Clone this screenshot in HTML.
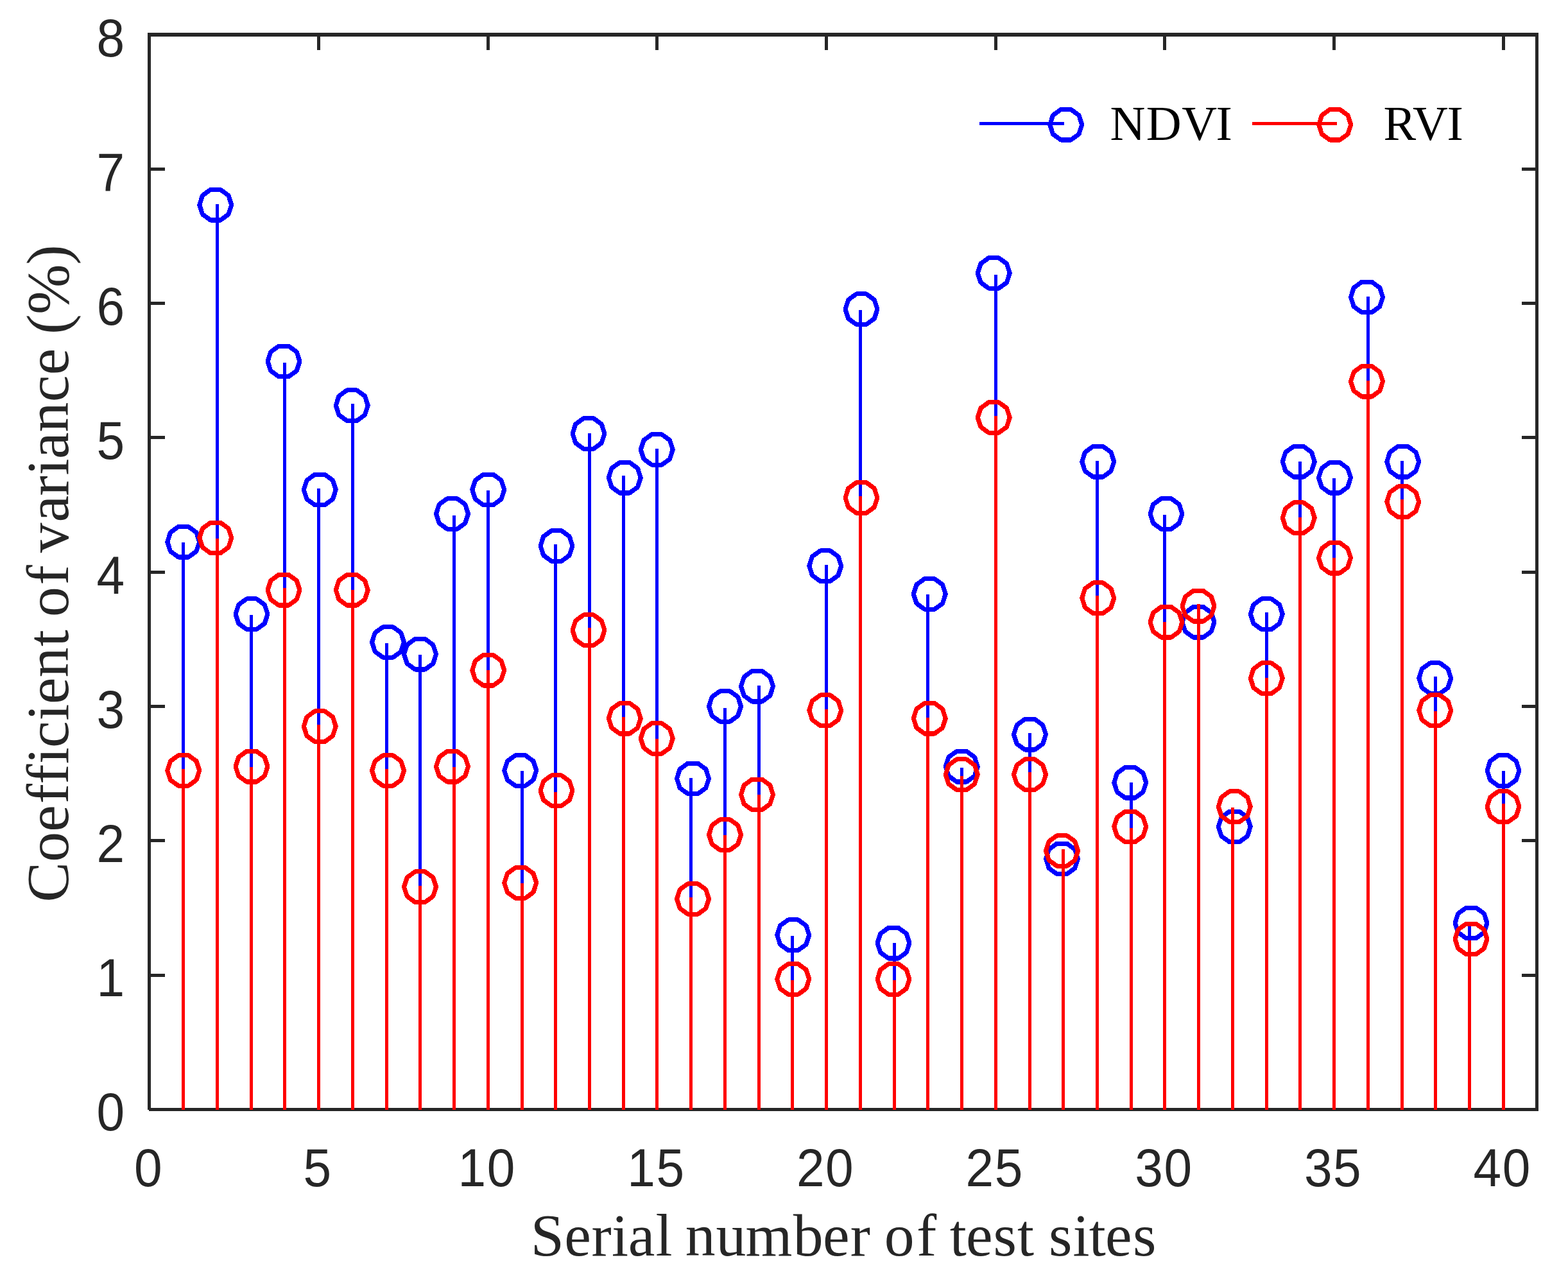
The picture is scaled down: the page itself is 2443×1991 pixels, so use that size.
<!DOCTYPE html>
<html lang="en"><head><meta charset="utf-8"><title>Coefficient of variance - NDVI vs RVI</title>
<style>
html,body{margin:0;padding:0;background:#fff;}
body{width:2443px;height:1991px;overflow:hidden;}
svg{display:block;}
text{font-kerning:none;font-variant-ligatures:none;}
.tk{font-family:"Liberation Sans",Arial,Helvetica,sans-serif;font-size:81.25px;fill:#262626;}
.lb{font-family:"Liberation Serif","Times New Roman",Times,serif;font-size:93.75px;fill:#262626;}
.lg{font-family:"Liberation Serif","Times New Roman",Times,serif;font-size:76px;fill:#000;}
.bs{fill:#0000ff;}.rs{fill:#ff0000;}
.bm{fill:none;stroke:#0000ff;stroke-width:7.1;stroke-linejoin:bevel;}
.rm{fill:none;stroke:#ff0000;stroke-width:7.1;stroke-linejoin:bevel;}
.ax{fill:#262626;}
</style></head><body>
<svg xmlns="http://www.w3.org/2000/svg" width="2443" height="1991" viewBox="0 0 2443 1991">
<rect x="0" y="0" width="2443" height="1991" fill="#ffffff"/>
<g class="ax" shape-rendering="crispEdges">
<rect x="230" y="51" width="2167" height="5.6"/>
<rect x="232" y="1726" width="2165" height="5"/>
<rect x="230" y="51" width="5" height="1678"/>
<rect x="2392" y="51" width="5" height="1680"/>
<rect x="494" y="56" width="5" height="21.5"/>
<rect x="494" y="1704.5" width="5" height="21.5"/>
<rect x="758" y="56" width="5" height="21.5"/>
<rect x="758" y="1704.5" width="5" height="21.5"/>
<rect x="1021" y="56" width="5" height="21.5"/>
<rect x="1021" y="1704.5" width="5" height="21.5"/>
<rect x="1285" y="56" width="5" height="21.5"/>
<rect x="1285" y="1704.5" width="5" height="21.5"/>
<rect x="1549" y="56" width="5" height="21.5"/>
<rect x="1549" y="1704.5" width="5" height="21.5"/>
<rect x="1812" y="56" width="5" height="21.5"/>
<rect x="1812" y="1704.5" width="5" height="21.5"/>
<rect x="2076" y="56" width="5" height="21.5"/>
<rect x="2076" y="1704.5" width="5" height="21.5"/>
<rect x="2340" y="56" width="5" height="21.5"/>
<rect x="2340" y="1704.5" width="5" height="21.5"/>
<rect x="235" y="1517" width="21.5" height="5"/>
<rect x="2370.5" y="1517" width="21.5" height="5"/>
<rect x="235" y="1307" width="21.5" height="5"/>
<rect x="2370.5" y="1307" width="21.5" height="5"/>
<rect x="235" y="1098" width="21.5" height="5"/>
<rect x="2370.5" y="1098" width="21.5" height="5"/>
<rect x="235" y="889" width="21.5" height="5"/>
<rect x="2370.5" y="889" width="21.5" height="5"/>
<rect x="235" y="679" width="21.5" height="5"/>
<rect x="2370.5" y="679" width="21.5" height="5"/>
<rect x="235" y="470" width="21.5" height="5"/>
<rect x="2370.5" y="470" width="21.5" height="5"/>
<rect x="235" y="261" width="21.5" height="5"/>
<rect x="2370.5" y="261" width="21.5" height="5"/>
</g>
<g class="bs" shape-rendering="crispEdges">
<rect x="283" y="845.0" width="5" height="884.2"/>
<rect x="336" y="317.9" width="5" height="1411.3"/>
<rect x="389" y="958.3" width="5" height="770.9"/>
<rect x="441" y="565.1" width="5" height="1164.2"/>
<rect x="494" y="760.5" width="5" height="968.8"/>
<rect x="547" y="629.2" width="5" height="1100.0"/>
<rect x="600" y="1002.2" width="5" height="727.0"/>
<rect x="652" y="1019.8" width="5" height="709.4"/>
<rect x="705" y="802.8" width="5" height="926.5"/>
<rect x="758" y="764.2" width="5" height="965.0"/>
<rect x="811" y="1201.0" width="5" height="528.2"/>
<rect x="863" y="847.6" width="5" height="881.6"/>
<rect x="916" y="675.0" width="5" height="1054.2"/>
<rect x="969" y="740.9" width="5" height="988.3"/>
<rect x="1021" y="698.9" width="5" height="1030.3"/>
<rect x="1074" y="1211.5" width="5" height="517.7"/>
<rect x="1127" y="1102.5" width="5" height="626.8"/>
<rect x="1180" y="1067.8" width="5" height="661.4"/>
<rect x="1232" y="1458.1" width="5" height="271.1"/>
<rect x="1285" y="880.2" width="5" height="849.0"/>
<rect x="1338" y="482.8" width="5" height="1246.4"/>
<rect x="1391" y="1469.4" width="5" height="259.8"/>
<rect x="1443" y="926.2" width="5" height="803.0"/>
<rect x="1496" y="1196.2" width="5" height="533.0"/>
<rect x="1549" y="427.9" width="5" height="1301.2"/>
<rect x="1602" y="1142.0" width="5" height="587.2"/>
<rect x="1654" y="1338.0" width="5" height="391.2"/>
<rect x="1707" y="718.3" width="5" height="1010.9"/>
<rect x="1760" y="1218.7" width="5" height="510.5"/>
<rect x="1812" y="801.5" width="5" height="927.8"/>
<rect x="1865" y="969.2" width="5" height="760.0"/>
<rect x="1918" y="1288.0" width="5" height="441.2"/>
<rect x="1971" y="954.0" width="5" height="775.2"/>
<rect x="2023" y="719.0" width="5" height="1010.2"/>
<rect x="2076" y="745.1" width="5" height="984.1"/>
<rect x="2129" y="461.8" width="5" height="1267.5"/>
<rect x="2182" y="717.9" width="5" height="1011.3"/>
<rect x="2234" y="1054.4" width="5" height="674.8"/>
<rect x="2287" y="1438.0" width="5" height="291.2"/>
<rect x="2340" y="1200.9" width="5" height="528.3"/>
</g>
<g class="bm" shape-rendering="crispEdges">
<polygon points="310.75,844.20 305.98,858.89 293.48,867.98 278.02,867.98 265.52,858.89 260.75,844.20 265.52,829.51 278.02,820.42 293.48,820.42 305.98,829.51"/>
<polygon points="360.75,319.20 355.98,333.89 343.48,342.98 328.02,342.98 315.52,333.89 310.75,319.20 315.52,304.51 328.02,295.42 343.48,295.42 355.98,304.51"/>
<polygon points="417.00,956.70 412.23,971.39 399.73,980.48 384.27,980.48 371.77,971.39 367.00,956.70 371.77,942.01 384.27,932.92 399.73,932.92 412.23,942.01"/>
<polygon points="467.00,562.95 462.23,577.64 449.73,586.73 434.27,586.73 421.77,577.64 417.00,562.95 421.77,548.26 434.27,539.17 449.73,539.17 462.23,548.26"/>
<polygon points="523.25,762.95 518.48,777.64 505.98,786.73 490.52,786.73 478.02,777.64 473.25,762.95 478.02,748.26 490.52,739.17 505.98,739.17 518.48,748.26"/>
<polygon points="573.25,631.70 568.48,646.39 555.98,655.48 540.52,655.48 528.02,646.39 523.25,631.70 528.02,617.01 540.52,607.92 555.98,607.92 568.48,617.01"/>
<polygon points="629.50,1000.45 624.73,1015.14 612.23,1024.23 596.77,1024.23 584.27,1015.14 579.50,1000.45 584.27,985.76 596.77,976.67 612.23,976.67 624.73,985.76"/>
<polygon points="679.50,1019.20 674.73,1033.89 662.23,1042.98 646.77,1042.98 634.27,1033.89 629.50,1019.20 634.27,1004.51 646.77,995.42 662.23,995.42 674.73,1004.51"/>
<polygon points="729.50,800.45 724.73,815.14 712.23,824.23 696.77,824.23 684.27,815.14 679.50,800.45 684.27,785.76 696.77,776.67 712.23,776.67 724.73,785.76"/>
<polygon points="785.75,762.95 780.98,777.64 768.48,786.73 753.02,786.73 740.52,777.64 735.75,762.95 740.52,748.26 753.02,739.17 768.48,739.17 780.98,748.26"/>
<polygon points="835.75,1200.45 830.98,1215.14 818.48,1224.23 803.02,1224.23 790.52,1215.14 785.75,1200.45 790.52,1185.76 803.02,1176.67 818.48,1176.67 830.98,1185.76"/>
<polygon points="892.00,850.45 887.23,865.14 874.73,874.23 859.27,874.23 846.77,865.14 842.00,850.45 846.77,835.76 859.27,826.67 874.73,826.67 887.23,835.76"/>
<polygon points="942.00,675.45 937.23,690.14 924.73,699.23 909.27,699.23 896.77,690.14 892.00,675.45 896.77,660.76 909.27,651.67 924.73,651.67 937.23,660.76"/>
<polygon points="998.25,744.20 993.48,758.89 980.98,767.98 965.52,767.98 953.02,758.89 948.25,744.20 953.02,729.51 965.52,720.42 980.98,720.42 993.48,729.51"/>
<polygon points="1048.25,700.45 1043.48,715.14 1030.98,724.23 1015.52,724.23 1003.02,715.14 998.25,700.45 1003.02,685.76 1015.52,676.67 1030.98,676.67 1043.48,685.76"/>
<polygon points="1104.50,1212.95 1099.73,1227.64 1087.23,1236.73 1071.77,1236.73 1059.27,1227.64 1054.50,1212.95 1059.27,1198.26 1071.77,1189.17 1087.23,1189.17 1099.73,1198.26"/>
<polygon points="1154.50,1100.45 1149.73,1115.14 1137.23,1124.23 1121.77,1124.23 1109.27,1115.14 1104.50,1100.45 1109.27,1085.76 1121.77,1076.67 1137.23,1076.67 1149.73,1085.76"/>
<polygon points="1204.50,1069.20 1199.73,1083.89 1187.23,1092.98 1171.77,1092.98 1159.27,1083.89 1154.50,1069.20 1159.27,1054.51 1171.77,1045.42 1187.23,1045.42 1199.73,1054.51"/>
<polygon points="1260.75,1456.70 1255.98,1471.39 1243.48,1480.48 1228.02,1480.48 1215.52,1471.39 1210.75,1456.70 1215.52,1442.01 1228.02,1432.92 1243.48,1432.92 1255.98,1442.01"/>
<polygon points="1310.75,881.70 1305.98,896.39 1293.48,905.48 1278.02,905.48 1265.52,896.39 1260.75,881.70 1265.52,867.01 1278.02,857.92 1293.48,857.92 1305.98,867.01"/>
<polygon points="1367.00,481.70 1362.23,496.39 1349.73,505.48 1334.27,505.48 1321.77,496.39 1317.00,481.70 1321.77,467.01 1334.27,457.92 1349.73,457.92 1362.23,467.01"/>
<polygon points="1417.00,1469.20 1412.23,1483.89 1399.73,1492.98 1384.27,1492.98 1371.77,1483.89 1367.00,1469.20 1371.77,1454.51 1384.27,1445.42 1399.73,1445.42 1412.23,1454.51"/>
<polygon points="1473.25,925.45 1468.48,940.14 1455.98,949.23 1440.52,949.23 1428.02,940.14 1423.25,925.45 1428.02,910.76 1440.52,901.67 1455.98,901.67 1468.48,910.76"/>
<polygon points="1523.25,1194.20 1518.48,1208.89 1505.98,1217.98 1490.52,1217.98 1478.02,1208.89 1473.25,1194.20 1478.02,1179.51 1490.52,1170.42 1505.98,1170.42 1518.48,1179.51"/>
<polygon points="1573.25,425.45 1568.48,440.14 1555.98,449.23 1540.52,449.23 1528.02,440.14 1523.25,425.45 1528.02,410.76 1540.52,401.67 1555.98,401.67 1568.48,410.76"/>
<polygon points="1629.50,1144.20 1624.73,1158.89 1612.23,1167.98 1596.77,1167.98 1584.27,1158.89 1579.50,1144.20 1584.27,1129.51 1596.77,1120.42 1612.23,1120.42 1624.73,1129.51"/>
<polygon points="1679.50,1337.95 1674.73,1352.64 1662.23,1361.73 1646.77,1361.73 1634.27,1352.64 1629.50,1337.95 1634.27,1323.26 1646.77,1314.17 1662.23,1314.17 1674.73,1323.26"/>
<polygon points="1735.75,719.20 1730.98,733.89 1718.48,742.98 1703.02,742.98 1690.52,733.89 1685.75,719.20 1690.52,704.51 1703.02,695.42 1718.48,695.42 1730.98,704.51"/>
<polygon points="1785.75,1219.20 1780.98,1233.89 1768.48,1242.98 1753.02,1242.98 1740.52,1233.89 1735.75,1219.20 1740.52,1204.51 1753.02,1195.42 1768.48,1195.42 1780.98,1204.51"/>
<polygon points="1842.00,800.45 1837.23,815.14 1824.73,824.23 1809.27,824.23 1796.77,815.14 1792.00,800.45 1796.77,785.76 1809.27,776.67 1824.73,776.67 1837.23,785.76"/>
<polygon points="1892.00,969.20 1887.23,983.89 1874.73,992.98 1859.27,992.98 1846.77,983.89 1842.00,969.20 1846.77,954.51 1859.27,945.42 1874.73,945.42 1887.23,954.51"/>
<polygon points="1948.25,1287.95 1943.48,1302.64 1930.98,1311.73 1915.52,1311.73 1903.02,1302.64 1898.25,1287.95 1903.02,1273.26 1915.52,1264.17 1930.98,1264.17 1943.48,1273.26"/>
<polygon points="1998.25,956.70 1993.48,971.39 1980.98,980.48 1965.52,980.48 1953.02,971.39 1948.25,956.70 1953.02,942.01 1965.52,932.92 1980.98,932.92 1993.48,942.01"/>
<polygon points="2048.25,719.20 2043.48,733.89 2030.98,742.98 2015.52,742.98 2003.02,733.89 1998.25,719.20 2003.02,704.51 2015.52,695.42 2030.98,695.42 2043.48,704.51"/>
<polygon points="2104.50,744.20 2099.73,758.89 2087.23,767.98 2071.77,767.98 2059.27,758.89 2054.50,744.20 2059.27,729.51 2071.77,720.42 2087.23,720.42 2099.73,729.51"/>
<polygon points="2154.50,462.95 2149.73,477.64 2137.23,486.73 2121.77,486.73 2109.27,477.64 2104.50,462.95 2109.27,448.26 2121.77,439.17 2137.23,439.17 2149.73,448.26"/>
<polygon points="2210.75,719.20 2205.98,733.89 2193.48,742.98 2178.02,742.98 2165.52,733.89 2160.75,719.20 2165.52,704.51 2178.02,695.42 2193.48,695.42 2205.98,704.51"/>
<polygon points="2260.75,1056.70 2255.98,1071.39 2243.48,1080.48 2228.02,1080.48 2215.52,1071.39 2210.75,1056.70 2215.52,1042.01 2228.02,1032.92 2243.48,1032.92 2255.98,1042.01"/>
<polygon points="2317.00,1437.95 2312.23,1452.64 2299.73,1461.73 2284.27,1461.73 2271.77,1452.64 2267.00,1437.95 2271.77,1423.26 2284.27,1414.17 2299.73,1414.17 2312.23,1423.26"/>
<polygon points="2367.00,1200.45 2362.23,1215.14 2349.73,1224.23 2334.27,1224.23 2321.77,1215.14 2317.00,1200.45 2321.77,1185.76 2334.27,1176.67 2349.73,1176.67 2362.23,1185.76"/>
</g>
<g class="rs" shape-rendering="crispEdges">
<rect x="283" y="1197.5" width="5" height="531.7"/>
<rect x="336" y="839.4" width="5" height="889.9"/>
<rect x="389" y="1195.0" width="5" height="534.2"/>
<rect x="441" y="916.4" width="5" height="812.8"/>
<rect x="494" y="1128.8" width="5" height="600.4"/>
<rect x="547" y="919.0" width="5" height="810.2"/>
<rect x="600" y="1197.5" width="5" height="531.7"/>
<rect x="652" y="1380.3" width="5" height="348.9"/>
<rect x="705" y="1195.0" width="5" height="534.2"/>
<rect x="758" y="1043.8" width="5" height="685.4"/>
<rect x="811" y="1376.0" width="5" height="353.2"/>
<rect x="863" y="1234.1" width="5" height="495.1"/>
<rect x="916" y="978.4" width="5" height="750.8"/>
<rect x="969" y="1117.3" width="5" height="611.9"/>
<rect x="1021" y="1151.2" width="5" height="578.0"/>
<rect x="1074" y="1398.2" width="5" height="331.0"/>
<rect x="1127" y="1300.9" width="5" height="428.3"/>
<rect x="1180" y="1237.9" width="5" height="491.3"/>
<rect x="1232" y="1527.2" width="5" height="202.0"/>
<rect x="1285" y="1105.4" width="5" height="623.8"/>
<rect x="1338" y="773.2" width="5" height="956.0"/>
<rect x="1391" y="1527.2" width="5" height="202.0"/>
<rect x="1443" y="1117.8" width="5" height="611.4"/>
<rect x="1496" y="1209.2" width="5" height="520.0"/>
<rect x="1549" y="647.8" width="5" height="1081.5"/>
<rect x="1602" y="1203.0" width="5" height="526.2"/>
<rect x="1654" y="1322.8" width="5" height="406.5"/>
<rect x="1707" y="927.7" width="5" height="801.5"/>
<rect x="1760" y="1289.8" width="5" height="439.5"/>
<rect x="1812" y="968.6" width="5" height="760.6"/>
<rect x="1865" y="940.7" width="5" height="788.5"/>
<rect x="1918" y="1258.2" width="5" height="471.0"/>
<rect x="1971" y="1055.9" width="5" height="673.3"/>
<rect x="2023" y="806.2" width="5" height="923.0"/>
<rect x="2076" y="869.0" width="5" height="860.2"/>
<rect x="2129" y="593.4" width="5" height="1135.8"/>
<rect x="2182" y="778.0" width="5" height="951.2"/>
<rect x="2234" y="1108.3" width="5" height="620.9"/>
<rect x="2287" y="1464.5" width="5" height="264.8"/>
<rect x="2340" y="1252.4" width="5" height="476.8"/>
</g>
<g class="rm" shape-rendering="crispEdges">
<polygon points="310.75,1200.45 305.98,1215.14 293.48,1224.23 278.02,1224.23 265.52,1215.14 260.75,1200.45 265.52,1185.76 278.02,1176.67 293.48,1176.67 305.98,1185.76"/>
<polygon points="360.75,837.95 355.98,852.64 343.48,861.73 328.02,861.73 315.52,852.64 310.75,837.95 315.52,823.26 328.02,814.17 343.48,814.17 355.98,823.26"/>
<polygon points="417.00,1194.20 412.23,1208.89 399.73,1217.98 384.27,1217.98 371.77,1208.89 367.00,1194.20 371.77,1179.51 384.27,1170.42 399.73,1170.42 412.23,1179.51"/>
<polygon points="467.00,919.20 462.23,933.89 449.73,942.98 434.27,942.98 421.77,933.89 417.00,919.20 421.77,904.51 434.27,895.42 449.73,895.42 462.23,904.51"/>
<polygon points="523.25,1131.70 518.48,1146.39 505.98,1155.48 490.52,1155.48 478.02,1146.39 473.25,1131.70 478.02,1117.01 490.52,1107.92 505.98,1107.92 518.48,1117.01"/>
<polygon points="573.25,919.20 568.48,933.89 555.98,942.98 540.52,942.98 528.02,933.89 523.25,919.20 528.02,904.51 540.52,895.42 555.98,895.42 568.48,904.51"/>
<polygon points="629.50,1200.45 624.73,1215.14 612.23,1224.23 596.77,1224.23 584.27,1215.14 579.50,1200.45 584.27,1185.76 596.77,1176.67 612.23,1176.67 624.73,1185.76"/>
<polygon points="679.50,1381.70 674.73,1396.39 662.23,1405.48 646.77,1405.48 634.27,1396.39 629.50,1381.70 634.27,1367.01 646.77,1357.92 662.23,1357.92 674.73,1367.01"/>
<polygon points="729.50,1194.20 724.73,1208.89 712.23,1217.98 696.77,1217.98 684.27,1208.89 679.50,1194.20 684.27,1179.51 696.77,1170.42 712.23,1170.42 724.73,1179.51"/>
<polygon points="785.75,1044.20 780.98,1058.89 768.48,1067.98 753.02,1067.98 740.52,1058.89 735.75,1044.20 740.52,1029.51 753.02,1020.42 768.48,1020.42 780.98,1029.51"/>
<polygon points="835.75,1375.45 830.98,1390.14 818.48,1399.23 803.02,1399.23 790.52,1390.14 785.75,1375.45 790.52,1360.76 803.02,1351.67 818.48,1351.67 830.98,1360.76"/>
<polygon points="892.00,1231.70 887.23,1246.39 874.73,1255.48 859.27,1255.48 846.77,1246.39 842.00,1231.70 846.77,1217.01 859.27,1207.92 874.73,1207.92 887.23,1217.01"/>
<polygon points="942.00,981.70 937.23,996.39 924.73,1005.48 909.27,1005.48 896.77,996.39 892.00,981.70 896.77,967.01 909.27,957.92 924.73,957.92 937.23,967.01"/>
<polygon points="998.25,1119.20 993.48,1133.89 980.98,1142.98 965.52,1142.98 953.02,1133.89 948.25,1119.20 953.02,1104.51 965.52,1095.42 980.98,1095.42 993.48,1104.51"/>
<polygon points="1048.25,1150.45 1043.48,1165.14 1030.98,1174.23 1015.52,1174.23 1003.02,1165.14 998.25,1150.45 1003.02,1135.76 1015.52,1126.67 1030.98,1126.67 1043.48,1135.76"/>
<polygon points="1104.50,1400.45 1099.73,1415.14 1087.23,1424.23 1071.77,1424.23 1059.27,1415.14 1054.50,1400.45 1059.27,1385.76 1071.77,1376.67 1087.23,1376.67 1099.73,1385.76"/>
<polygon points="1154.50,1300.45 1149.73,1315.14 1137.23,1324.23 1121.77,1324.23 1109.27,1315.14 1104.50,1300.45 1109.27,1285.76 1121.77,1276.67 1137.23,1276.67 1149.73,1285.76"/>
<polygon points="1204.50,1237.95 1199.73,1252.64 1187.23,1261.73 1171.77,1261.73 1159.27,1252.64 1154.50,1237.95 1159.27,1223.26 1171.77,1214.17 1187.23,1214.17 1199.73,1223.26"/>
<polygon points="1260.75,1525.45 1255.98,1540.14 1243.48,1549.23 1228.02,1549.23 1215.52,1540.14 1210.75,1525.45 1215.52,1510.76 1228.02,1501.67 1243.48,1501.67 1255.98,1510.76"/>
<polygon points="1310.75,1106.70 1305.98,1121.39 1293.48,1130.48 1278.02,1130.48 1265.52,1121.39 1260.75,1106.70 1265.52,1092.01 1278.02,1082.92 1293.48,1082.92 1305.98,1092.01"/>
<polygon points="1367.00,775.45 1362.23,790.14 1349.73,799.23 1334.27,799.23 1321.77,790.14 1317.00,775.45 1321.77,760.76 1334.27,751.67 1349.73,751.67 1362.23,760.76"/>
<polygon points="1417.00,1525.45 1412.23,1540.14 1399.73,1549.23 1384.27,1549.23 1371.77,1540.14 1367.00,1525.45 1371.77,1510.76 1384.27,1501.67 1399.73,1501.67 1412.23,1510.76"/>
<polygon points="1473.25,1119.20 1468.48,1133.89 1455.98,1142.98 1440.52,1142.98 1428.02,1133.89 1423.25,1119.20 1428.02,1104.51 1440.52,1095.42 1455.98,1095.42 1468.48,1104.51"/>
<polygon points="1523.25,1206.70 1518.48,1221.39 1505.98,1230.48 1490.52,1230.48 1478.02,1221.39 1473.25,1206.70 1478.02,1192.01 1490.52,1182.92 1505.98,1182.92 1518.48,1192.01"/>
<polygon points="1573.25,650.45 1568.48,665.14 1555.98,674.23 1540.52,674.23 1528.02,665.14 1523.25,650.45 1528.02,635.76 1540.52,626.67 1555.98,626.67 1568.48,635.76"/>
<polygon points="1629.50,1206.70 1624.73,1221.39 1612.23,1230.48 1596.77,1230.48 1584.27,1221.39 1579.50,1206.70 1584.27,1192.01 1596.77,1182.92 1612.23,1182.92 1624.73,1192.01"/>
<polygon points="1679.50,1325.45 1674.73,1340.14 1662.23,1349.23 1646.77,1349.23 1634.27,1340.14 1629.50,1325.45 1634.27,1310.76 1646.77,1301.67 1662.23,1301.67 1674.73,1310.76"/>
<polygon points="1735.75,931.70 1730.98,946.39 1718.48,955.48 1703.02,955.48 1690.52,946.39 1685.75,931.70 1690.52,917.01 1703.02,907.92 1718.48,907.92 1730.98,917.01"/>
<polygon points="1785.75,1287.95 1780.98,1302.64 1768.48,1311.73 1753.02,1311.73 1740.52,1302.64 1735.75,1287.95 1740.52,1273.26 1753.02,1264.17 1768.48,1264.17 1780.98,1273.26"/>
<polygon points="1842.00,969.20 1837.23,983.89 1824.73,992.98 1809.27,992.98 1796.77,983.89 1792.00,969.20 1796.77,954.51 1809.27,945.42 1824.73,945.42 1837.23,954.51"/>
<polygon points="1892.00,944.20 1887.23,958.89 1874.73,967.98 1859.27,967.98 1846.77,958.89 1842.00,944.20 1846.77,929.51 1859.27,920.42 1874.73,920.42 1887.23,929.51"/>
<polygon points="1948.25,1256.70 1943.48,1271.39 1930.98,1280.48 1915.52,1280.48 1903.02,1271.39 1898.25,1256.70 1903.02,1242.01 1915.52,1232.92 1930.98,1232.92 1943.48,1242.01"/>
<polygon points="1998.25,1056.70 1993.48,1071.39 1980.98,1080.48 1965.52,1080.48 1953.02,1071.39 1948.25,1056.70 1953.02,1042.01 1965.52,1032.92 1980.98,1032.92 1993.48,1042.01"/>
<polygon points="2048.25,806.70 2043.48,821.39 2030.98,830.48 2015.52,830.48 2003.02,821.39 1998.25,806.70 2003.02,792.01 2015.52,782.92 2030.98,782.92 2043.48,792.01"/>
<polygon points="2104.50,869.20 2099.73,883.89 2087.23,892.98 2071.77,892.98 2059.27,883.89 2054.50,869.20 2059.27,854.51 2071.77,845.42 2087.23,845.42 2099.73,854.51"/>
<polygon points="2154.50,594.20 2149.73,608.89 2137.23,617.98 2121.77,617.98 2109.27,608.89 2104.50,594.20 2109.27,579.51 2121.77,570.42 2137.23,570.42 2149.73,579.51"/>
<polygon points="2210.75,781.70 2205.98,796.39 2193.48,805.48 2178.02,805.48 2165.52,796.39 2160.75,781.70 2165.52,767.01 2178.02,757.92 2193.48,757.92 2205.98,767.01"/>
<polygon points="2260.75,1106.70 2255.98,1121.39 2243.48,1130.48 2228.02,1130.48 2215.52,1121.39 2210.75,1106.70 2215.52,1092.01 2228.02,1082.92 2243.48,1082.92 2255.98,1092.01"/>
<polygon points="2317.00,1462.95 2312.23,1477.64 2299.73,1486.73 2284.27,1486.73 2271.77,1477.64 2267.00,1462.95 2271.77,1448.26 2284.27,1439.17 2299.73,1439.17 2312.23,1448.26"/>
<polygon points="2367.00,1256.70 2362.23,1271.39 2349.73,1280.48 2334.27,1280.48 2321.77,1271.39 2317.00,1256.70 2321.77,1242.01 2334.27,1232.92 2349.73,1232.92 2362.23,1242.01"/>
</g>
<g class="tk" transform="scale(0.965 1.025)">
<text x="216.47" y="1802.83">0</text>
<text x="489.69" y="1802.83">5</text>
<text x="739.50 786.33" y="1802.83">10</text>
<text x="1012.72 1059.55" y="1802.83">15</text>
<text x="1285.95 1332.77" y="1802.83">20</text>
<text x="1559.17 1605.99" y="1802.83">25</text>
<text x="1832.39 1879.21" y="1802.83">30</text>
<text x="2105.61 2152.44" y="1802.83">35</text>
<text x="2378.83 2425.66" y="1802.83">40</text>
<text x="156.07" y="1717.95">0</text>
<text x="156.07" y="1514.23">1</text>
<text x="156.07" y="1310.52">2</text>
<text x="156.07" y="1106.31">3</text>
<text x="156.07" y="902.20">4</text>
<text x="156.07" y="698.00">5</text>
<text x="156.07" y="493.89">6</text>
<text x="156.07" y="289.79">7</text>
<text x="156.07" y="85.68">8</text>
</g>
<text class="lb" x="826.8 879.3 921.4 953.1 978.8 1021.5 1047.6 1067.7 1115.4 1161.5 1235.8 1282.1 1324.8 1356.0 1377.7 1427.9 1459.1 1479.8 1504.9 1547.6 1584.9 1611.0 1634.0 1671.4 1696.7 1722.1 1765.0" y="1956">Serial number of test sites</text>
<text class="lb" transform="translate(106 894) rotate(-90)" x="-511.6 -448.7 -401.7 -358.3 -327.8 -296.2 -271.0 -228.7 -202.9 -161.4 -113.3 -90.2 -67.1 -17.4 7.7 32.8 80.5 121.4 153.4 179.1 220.6 267.8 309.8 341.5 373.3 404.2 481.6" y="0">Coefficient of variance (%)</text>
<rect class="bs" shape-rendering="crispEdges" x="1526" y="190" width="132" height="5"/>
<polygon class="bm" shape-rendering="crispEdges" points="1685.75,194.25 1680.98,208.94 1668.48,218.03 1653.02,218.03 1640.52,208.94 1635.75,194.25 1640.52,179.56 1653.02,170.47 1668.48,170.47 1680.98,179.56"/>
<text class="lg" x="1729.6 1785.8 1841.3 1894.5" y="218">NDVI</text>
<rect class="rs" shape-rendering="crispEdges" x="1951" y="190" width="132" height="5"/>
<polygon class="rm" shape-rendering="crispEdges" points="2104.75,194.25 2099.98,208.94 2087.48,218.03 2072.02,218.03 2059.52,208.94 2054.75,194.25 2059.52,179.56 2072.02,170.47 2087.48,170.47 2099.98,179.56"/>
<text class="lg" x="2155.5 2201.1 2254.4" y="218">RVI</text>
</svg>
</body></html>
